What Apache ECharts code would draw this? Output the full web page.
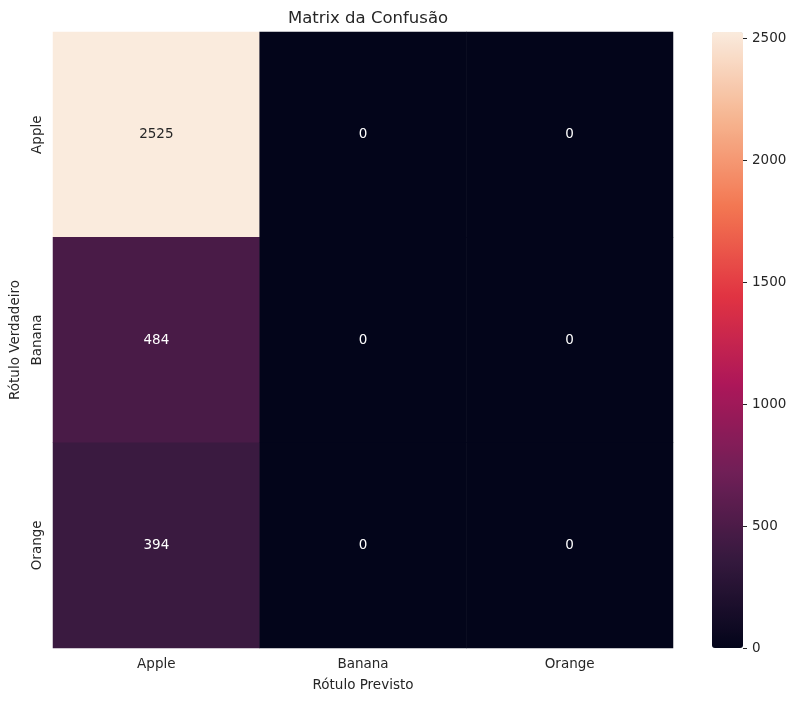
<!DOCTYPE html>
<html>
<head>
<meta charset="utf-8">
<script src="https://cdn.jsdelivr.net/npm/echarts@6/dist/echarts.min.js"></script>
<style>html,body{margin:0;padding:0;background:#fff;}#c{width:797px;height:701px;}</style>
</head>
<body>
<div id="c"></div>
<script>
const predictedLabels = ['Apple', 'Banana', 'Orange'];
const trueLabels = ['Apple', 'Banana', 'Orange'];
const rowApple = [2525, 0, 0];
const rowBanana = [484, 0, 0];
const rowOrange = [394, 0, 0];
const colorbarTicks = [0, 500, 1000, 1500, 2000, 2500];
const rocket = ['#03051a', '#35193e', '#701f57', '#ad1759', '#e13342', '#f37651', '#f6b48f', '#faebdd'];

const rows = [rowApple, rowBanana, rowOrange];
const vmin = 0;
const vmax = Math.max(...rows.flat());
const data = [];
rows.forEach((row, r) => row.forEach((v, c) => {
  const light = (v - vmin) / (vmax - vmin) > 0.6;
  data.push({ value: [c, r, v], label: { color: light ? '#262626' : '#ffffff' } });
}));

const font = 'DejaVu Sans';
const chart = echarts.init(document.getElementById('c'));
chart.setOption({
  backgroundColor: '#ffffff',
  animation: false,
  textStyle: { fontFamily: font },
  title: {
    text: 'Matrix da Confusão', left: 363, top: 5, textAlign: 'center',
    textStyle: { fontFamily: font, fontSize: 16.5, fontWeight: 'normal', color: '#262626' }
  },
  grid: [
    { left: 53, top: 32, width: 620, height: 616 },
    { left: 743, top: 32, width: 20, height: 616 }
  ],
  xAxis: [
    {
      type: 'category', data: predictedLabels, gridIndex: 0,
      axisLine: { show: false }, axisTick: { show: false }, splitLine: { show: false },
      axisLabel: { fontSize: 13.5, color: '#262626', margin: 9, fontFamily: font },
      name: 'Rótulo Previsto', nameLocation: 'middle', nameGap: 30,
      nameTextStyle: { fontSize: 13.5, color: '#262626', fontFamily: font }
    },
    { type: 'value', gridIndex: 1, show: false, min: 0, max: 1 }
  ],
  yAxis: [
    {
      type: 'category', data: trueLabels, gridIndex: 0, inverse: true,
      axisLine: { show: false }, axisTick: { show: false }, splitLine: { show: false },
      axisLabel: { fontSize: 13.5, color: '#262626', margin: 9, rotate: 90, fontFamily: font },
      name: 'Rótulo Verdadeiro', nameLocation: 'middle', nameGap: 31, nameRotate: 90,
      nameTextStyle: { fontSize: 13.5, color: '#262626', fontFamily: font }
    },
    {
      type: 'value', gridIndex: 1, position: 'left', min: vmin, max: vmax, z: 10,
      axisLine: { show: false }, splitLine: { show: false },
      axisTick: { show: true, inside: true, length: 4, lineStyle: { color: '#262626', width: 1 }, customValues: colorbarTicks },
      axisLabel: { inside: true, fontSize: 13.5, color: '#262626', margin: 9, fontFamily: font, customValues: colorbarTicks,
        formatter: v => String(v) }
    }
  ],
  visualMap: {
    type: 'continuous', min: vmin, max: vmax, dimension: 2, seriesIndex: 0,
    calculable: false, hoverLink: false, realtime: false, z: 1,
    itemWidth: 31, itemHeight: 616, left: 707, top: 27, padding: 5,
    text: null, showLabel: false,
    inRange: { color: rocket }
  },
  series: [
    {
      type: 'heatmap', xAxisIndex: 0, yAxisIndex: 0, data: data,
      label: { show: true, fontSize: 13.5, fontFamily: font },
      itemStyle: { borderWidth: 0 },
      emphasis: { disabled: true }
    },
    { type: 'line', xAxisIndex: 1, yAxisIndex: 1, data: [], silent: true }
  ]
});
</script>
</body>
</html>
